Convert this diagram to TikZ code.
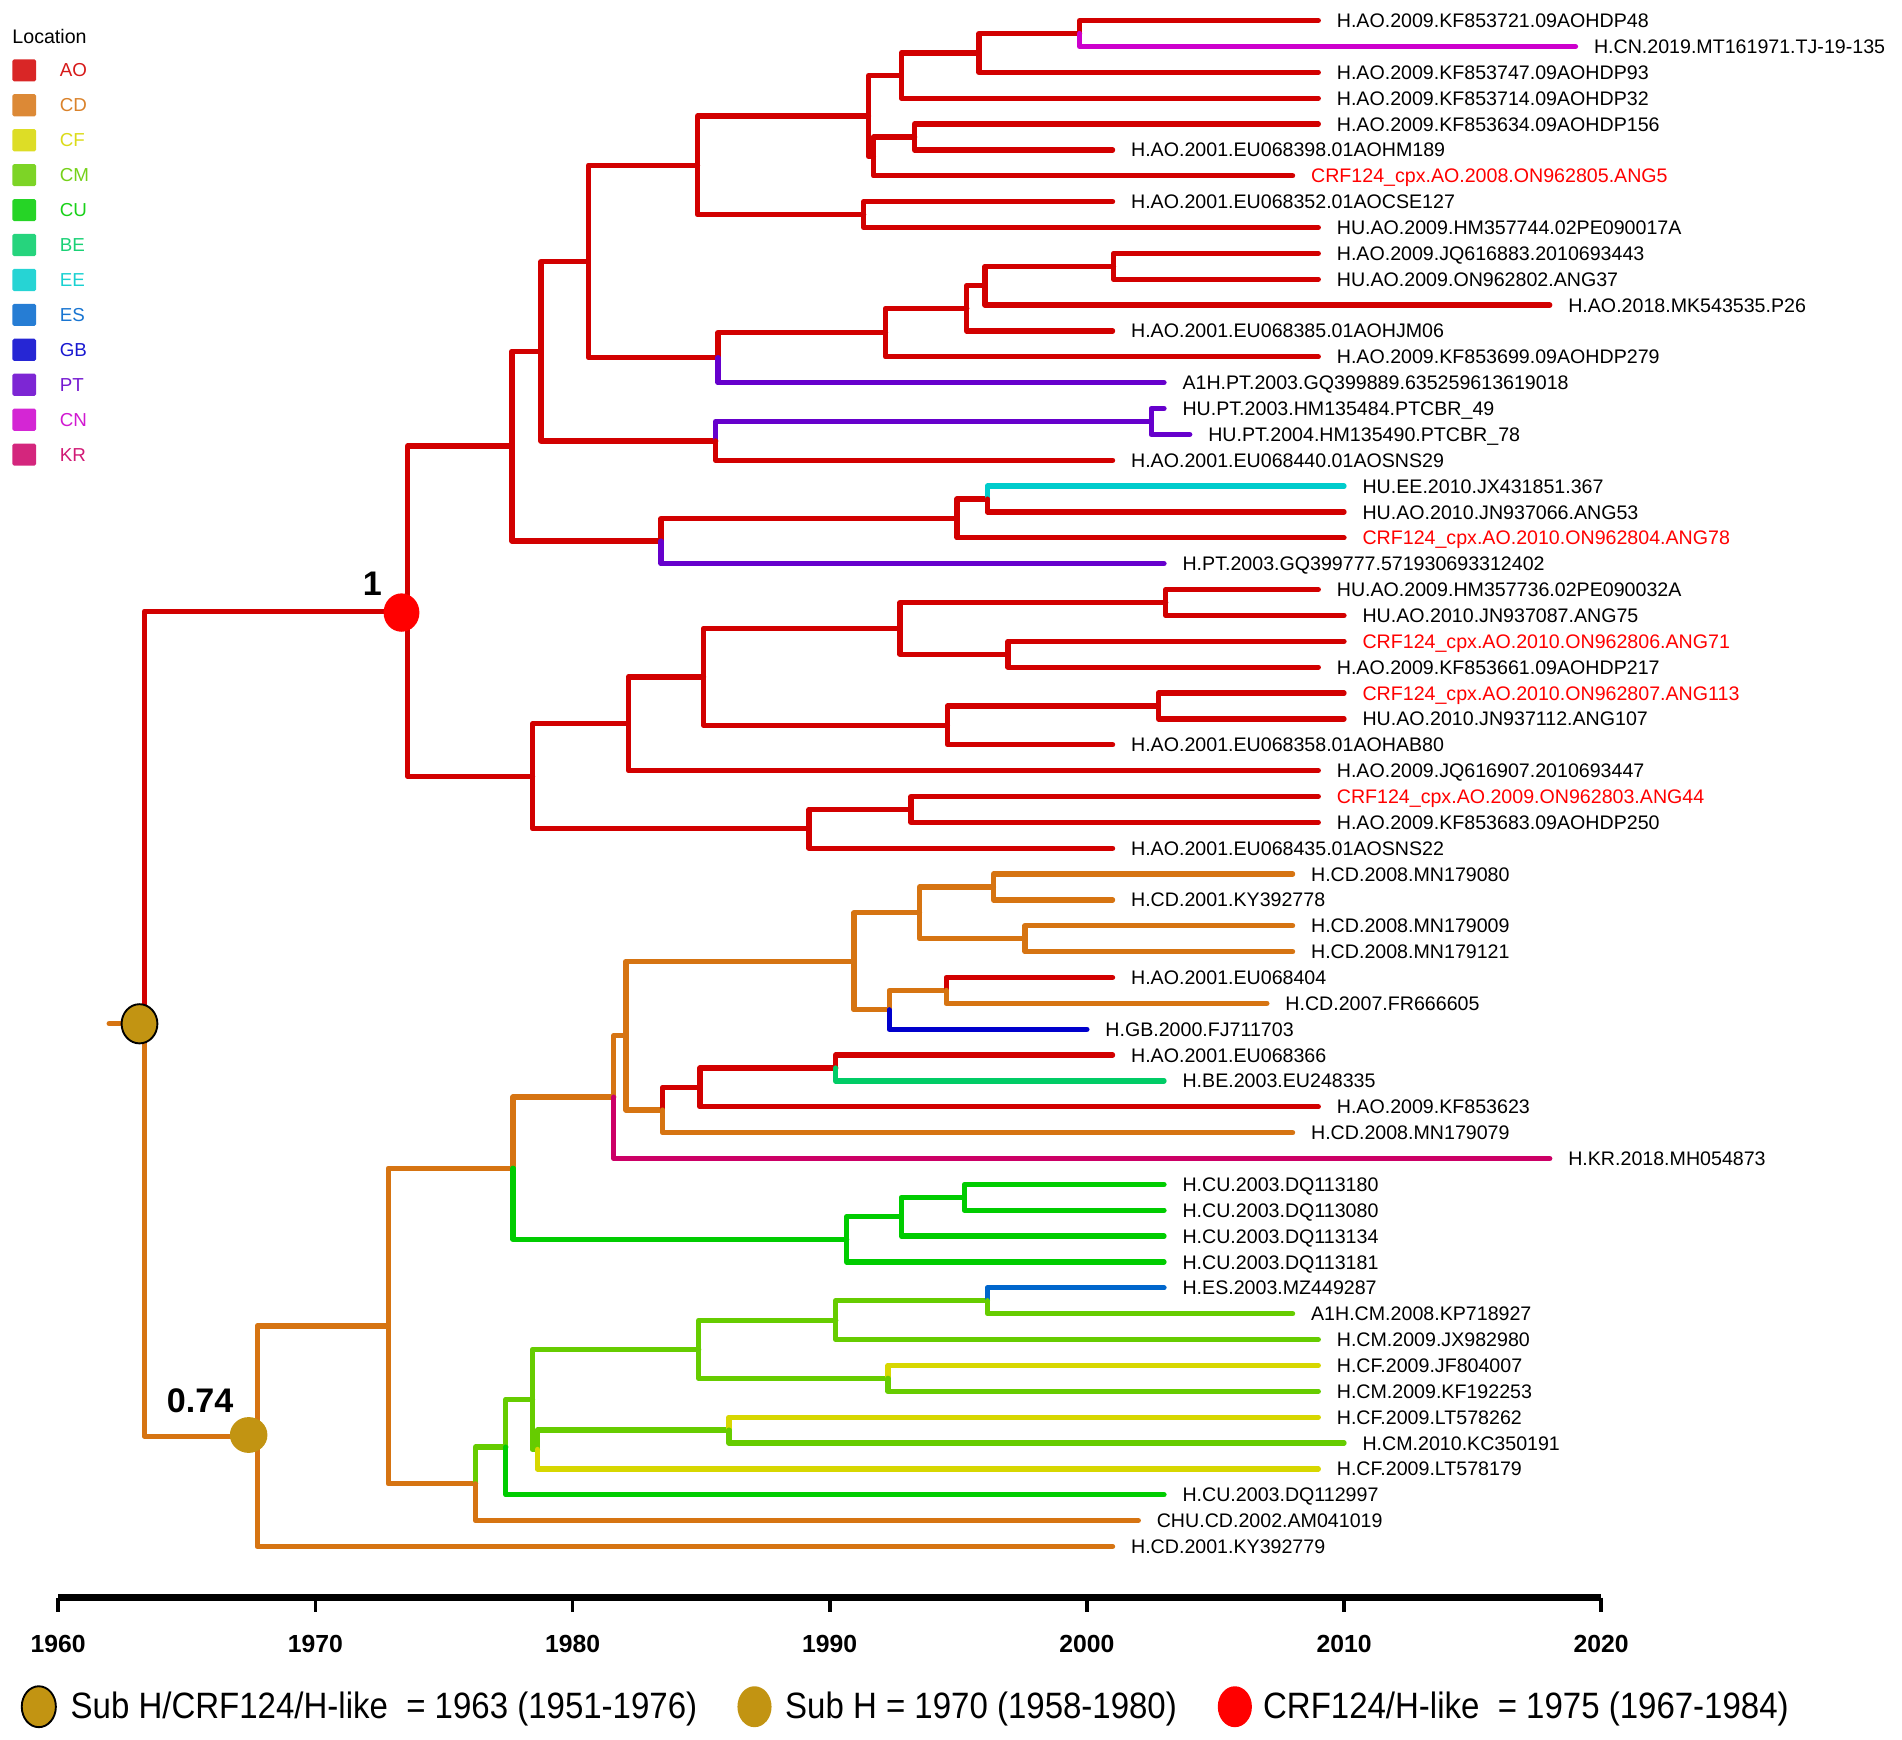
\documentclass[tikz,border=0pt]{standalone}
\usepackage{fontspec}
\setmainfont{Liberation Sans}
\newfontfamily\narrowfont{Liberation Sans}[FakeStretch=0.9]
\usetikzlibrary{shapes.geometric}
\definecolor{cAO}{RGB}{210,0,0}
\definecolor{cCD}{RGB}{214,116,18}
\definecolor{cCF}{RGB}{215,215,0}
\definecolor{cCM}{RGB}{102,204,0}
\definecolor{cCU}{RGB}{0,204,0}
\definecolor{cBE}{RGB}{0,204,102}
\definecolor{cEE}{RGB}{0,204,204}
\definecolor{cES}{RGB}{0,102,204}
\definecolor{cGB}{RGB}{0,0,204}
\definecolor{cPT}{RGB}{102,0,204}
\definecolor{cCN}{RGB}{204,0,204}
\definecolor{cKR}{RGB}{204,0,102}
\definecolor{cLabRed}{RGB}{255,0,0}
\definecolor{cGold}{RGB}{194,148,18}
\definecolor{cDotRed}{RGB}{255,0,0}
\begin{document}
\begin{tikzpicture}[x=0.025cm, y=-0.025cm,
  declare function={ly(\i)=17+(\i-1)*21.32; xyear(\a)=48+(\a-1960)*21.2;},
  branch/.style={line width=3.1pt, line cap=round, line join=round},
  lab/.style={font=\fontsize{11.5}{12}\selectfont, anchor=base west, inner sep=0pt},
  legsq/.style={minimum width=14pt, minimum height=13pt, inner sep=0pt, rounded corners=1pt},
  leglab/.style={font=\fontsize{11}{12}\selectfont, anchor=west, inner sep=0pt},
  ticklab/.style={font=\bfseries\fontsize{14.5}{16}\selectfont, inner sep=0pt},
  keytext/.style={font=\narrowfont\fontsize{21.5}{24}\selectfont, anchor=base west, inner sep=0pt},
  support/.style={font=\bfseries\fontsize{20}{22}\selectfont, inner sep=0pt},
  dot/.style={ellipse, inner sep=0pt}
]
\useasboundingbox (0,0) rectangle (1568,1434);

% ---------- leaves ----------
\foreach \i/\yy/\lbl/\tc in {
1/2009/H.AO.2009.KF853721.09AOHDP48/black,
2/2019/H.CN.2019.MT161971.TJ-19-135/black,
3/2009/H.AO.2009.KF853747.09AOHDP93/black,
4/2009/H.AO.2009.KF853714.09AOHDP32/black,
5/2009/H.AO.2009.KF853634.09AOHDP156/black,
6/2001/H.AO.2001.EU068398.01AOHM189/black,
7/2008/CRF124\_cpx.AO.2008.ON962805.ANG5/cLabRed,
8/2001/H.AO.2001.EU068352.01AOCSE127/black,
9/2009/HU.AO.2009.HM357744.02PE090017A/black,
10/2009/H.AO.2009.JQ616883.2010693443/black,
11/2009/HU.AO.2009.ON962802.ANG37/black,
12/2018/H.AO.2018.MK543535.P26/black,
13/2001/H.AO.2001.EU068385.01AOHJM06/black,
14/2009/H.AO.2009.KF853699.09AOHDP279/black,
15/2003/A1H.PT.2003.GQ399889.635259613619018/black,
16/2003/HU.PT.2003.HM135484.PTCBR\_49/black,
17/2004/HU.PT.2004.HM135490.PTCBR\_78/black,
18/2001/H.AO.2001.EU068440.01AOSNS29/black,
19/2010/HU.EE.2010.JX431851.367/black,
20/2010/HU.AO.2010.JN937066.ANG53/black,
21/2010/CRF124\_cpx.AO.2010.ON962804.ANG78/cLabRed,
22/2003/H.PT.2003.GQ399777.571930693312402/black,
23/2009/HU.AO.2009.HM357736.02PE090032A/black,
24/2010/HU.AO.2010.JN937087.ANG75/black,
25/2010/CRF124\_cpx.AO.2010.ON962806.ANG71/cLabRed,
26/2009/H.AO.2009.KF853661.09AOHDP217/black,
27/2010/CRF124\_cpx.AO.2010.ON962807.ANG113/cLabRed,
28/2010/HU.AO.2010.JN937112.ANG107/black,
29/2001/H.AO.2001.EU068358.01AOHAB80/black,
30/2009/H.AO.2009.JQ616907.2010693447/black,
31/2009/CRF124\_cpx.AO.2009.ON962803.ANG44/cLabRed,
32/2009/H.AO.2009.KF853683.09AOHDP250/black,
33/2001/H.AO.2001.EU068435.01AOSNS22/black,
34/2008/H.CD.2008.MN179080/black,
35/2001/H.CD.2001.KY392778/black,
36/2008/H.CD.2008.MN179009/black,
37/2008/H.CD.2008.MN179121/black,
38/2001/H.AO.2001.EU068404/black,
39/2007/H.CD.2007.FR666605/black,
40/2000/H.GB.2000.FJ711703/black,
41/2001/H.AO.2001.EU068366/black,
42/2003/H.BE.2003.EU248335/black,
43/2009/H.AO.2009.KF853623/black,
44/2008/H.CD.2008.MN179079/black,
45/2018/H.KR.2018.MH054873/black,
46/2003/H.CU.2003.DQ113180/black,
47/2003/H.CU.2003.DQ113080/black,
48/2003/H.CU.2003.DQ113134/black,
49/2003/H.CU.2003.DQ113181/black,
50/2003/H.ES.2003.MZ449287/black,
51/2008/A1H.CM.2008.KP718927/black,
52/2009/H.CM.2009.JX982980/black,
53/2009/H.CF.2009.JF804007/black,
54/2009/H.CM.2009.KF192253/black,
55/2009/H.CF.2009.LT578262/black,
56/2010/H.CM.2010.KC350191/black,
57/2009/H.CF.2009.LT578179/black,
58/2003/H.CU.2003.DQ112997/black,
59/2002/CHU.CD.2002.AM041019/black,
60/2001/H.CD.2001.KY392779/black}
{
  \coordinate (l\i) at ({xyear(\yy)}, {ly(\i)});
  \node[lab, text=\tc] (t\i) at ({xyear(\yy)+15}, {ly(\i)+5.8}) {\lbl};
}

% ---------- internal nodes ----------
\foreach \n/\xx/\yi in {
root/119/39.787, node1/336/23.836,
n122/422/17.453125, n118/446/13.78125, n115/485/10.3125, n19/575/6.59375,
n17/716/4.6875, n1234/743/3.125, n123/807/2.25, n12/890/1.5,
n567/720/6.25, n56/754/5.5, n89/712/8.5,
n1015/592/14.03125, n1014/730/13.0625, n1013/797/12.125, n1012/812/11.25, n1011/918/10.5,
n1618/590/17.25, n1617/949/16.5,
n1922/545/21.125, n1921/789/20.25, n1920/814/19.5,
n2333/439/30.21875, n2330/518/28.1875, n2329/580/26.375, n2326/742/24.5,
n2324/961/23.5, n2526/831/25.5, n2729/781/28.25, n2728/955/27.5,
n3133/667/32.25, n3132/751/31.5,
n3460/212/55.73828, n3459/320/51.4765625, n3449/423/45.375,
n3445/506/42.625, n3444/516/40.25, n3440/704/37.375, n3437/758/35.5,
n3435/819/34.5, n3637/845/36.5, n3840/733/39.25, n3839/780/38.5,
n4144/546/43.125, n4143/577/42.25, n4142/689/41.5,
n4649/698/48.125, n4648/743/47.25, n4647/795/46.5,
n5059/392/57.578125, n5058/417/56.15625, n5057/439/54.3125,
n5054/576/52.375, n5052/689/51.25, n5051/814/50.5, n5354/732/53.5,
n5557/443/56.25, n5556/601/55.5}
{
  \coordinate (\n) at (\xx, {ly(\yi)});
}
\coordinate (rootstub) at (90, {ly(39.787)});

% ---------- branches ----------
\draw[branch, cCD] (rootstub) -- (root);
\foreach \p/\ch/\col in {
root/node1/cAO, root/n3460/cCD,
node1/n122/cAO, node1/n2333/cAO,
n122/n118/cAO, n122/n1922/cAO,
n118/n115/cAO, n118/n1618/cAO,
n115/n19/cAO, n115/n1015/cAO,
n19/n17/cAO, n19/n89/cAO,
n17/n1234/cAO, n17/n567/cAO,
n1234/n123/cAO, n1234/l4/cAO,
n123/n12/cAO, n123/l3/cAO,
n12/l1/cAO, n12/l2/cCN,
n567/n56/cAO, n567/l7/cAO,
n56/l5/cAO, n56/l6/cAO,
n89/l8/cAO, n89/l9/cAO,
n1015/n1014/cAO, n1015/l15/cPT,
n1014/n1013/cAO, n1014/l14/cAO,
n1013/n1012/cAO, n1013/l13/cAO,
n1012/n1011/cAO, n1012/l12/cAO,
n1011/l10/cAO, n1011/l11/cAO,
n1618/n1617/cPT, n1618/l18/cAO,
n1617/l16/cPT, n1617/l17/cPT,
n1922/n1921/cAO, n1922/l22/cPT,
n1921/n1920/cAO, n1921/l21/cAO,
n1920/l19/cEE, n1920/l20/cAO,
n2333/n2330/cAO, n2333/n3133/cAO,
n2330/n2329/cAO, n2330/l30/cAO,
n2329/n2326/cAO, n2329/n2729/cAO,
n2326/n2324/cAO, n2326/n2526/cAO,
n2324/l23/cAO, n2324/l24/cAO,
n2526/l25/cAO, n2526/l26/cAO,
n2729/n2728/cAO, n2729/l29/cAO,
n2728/l27/cAO, n2728/l28/cAO,
n3133/n3132/cAO, n3133/l33/cAO,
n3132/l31/cAO, n3132/l32/cAO,
n3460/n3459/cCD, n3460/l60/cCD,
n3459/n3449/cCD, n3459/n5059/cCD,
n3449/n3445/cCD, n3449/n4649/cCU,
n3445/n3444/cCD, n3445/l45/cKR,
n3444/n3440/cCD, n3444/n4144/cCD,
n3440/n3437/cCD, n3440/n3840/cCD,
n3437/n3435/cCD, n3437/n3637/cCD,
n3435/l34/cCD, n3435/l35/cCD,
n3637/l36/cCD, n3637/l37/cCD,
n3840/n3839/cCD, n3840/l40/cGB,
n3839/l38/cAO, n3839/l39/cCD,
n4144/n4143/cAO, n4144/l44/cCD,
n4143/n4142/cAO, n4143/l43/cAO,
n4142/l41/cAO, n4142/l42/cBE,
n4649/n4648/cCU, n4649/l49/cCU,
n4648/n4647/cCU, n4648/l48/cCU,
n4647/l46/cCU, n4647/l47/cCU,
n5059/n5058/cCM, n5059/l59/cCD,
n5058/n5057/cCM, n5058/l58/cCU,
n5057/n5054/cCM, n5057/n5557/cCM,
n5054/n5052/cCM, n5054/n5354/cCM,
n5052/n5051/cCM, n5052/l52/cCM,
n5051/l50/cES, n5051/l51/cCM,
n5354/l53/cCF, n5354/l54/cCM,
n5557/n5556/cCM, n5557/l57/cCF,
n5556/l55/cCF, n5556/l56/cCM}
{
  \draw[branch, draw=\col] (\p) |- (\ch);
}

% ---------- node markers ----------
\node[dot, fill=cGold, draw=black, line width=1.1pt, minimum width=21pt, minimum height=23pt] (mroot) at (115,844) {};
\node[dot, fill=cDotRed, minimum width=21pt, minimum height=22.5pt] (mnode1) at (331,505) {};
\node[dot, fill=cGold, minimum width=22pt, minimum height=21pt] (msubh) at (205,1183) {};
\node[support] (s1) at (307,481) {1};
\node[support] (s074) at (165,1155) {0.74};

% ---------- location legend ----------
\node[font=\fontsize{11.5}{12}\selectfont, anchor=west, inner sep=0pt] (loctitle) at (10,30) {Location};
\foreach \nm [count=\k from 0] in {AO,CD,CF,CM,CU,BE,EE,ES,GB,PT,CN,KR} {
  \node[legsq, fill=c\nm!85!white] (sq\nm) at (20, {58+28.8*\k}) {};
  \node[leglab, text=c\nm!90!white] (lg\nm) at (49, {58+28.8*\k}) {\nm};
}

% ---------- time axis ----------
\coordinate (axL) at (48,1317);
\coordinate (axR) at (1320,1317);
\draw[line width=4pt] (axL) -- (axR);
\foreach \yv [count=\k from 0] in {1960,1970,1980,1990,2000,2010,2020} {
  \coordinate (tk\k) at ({48+212*\k},1317);
  \draw[line width=2.2pt] (tk\k) -- ++(0,12);
  \node[ticklab] (tl\k) at ({48+212*\k},1355) {\yv};
}

% ---------- bottom key ----------
\node[dot, fill=cGold, draw=black, line width=1.1pt, minimum width=20pt, minimum height=24pt] (k1) at (32,1407) {};
\node[keytext] (kt1) at (58,1417) {Sub H/CRF124/H-like\ \ = 1963 (1951-1976)};
\node[dot, fill=cGold, minimum width=20pt, minimum height=24pt] (k2) at (622,1407) {};
\node[keytext] (kt2) at (647,1417) {Sub H = 1970 (1958-1980)};
\node[dot, fill=cDotRed, minimum width=20pt, minimum height=24pt] (k3) at (1018,1407) {};
\node[keytext] (kt3) at (1041,1417) {CRF124/H-like\ \ = 1975 (1967-1984)};
\end{tikzpicture}
\end{document}
